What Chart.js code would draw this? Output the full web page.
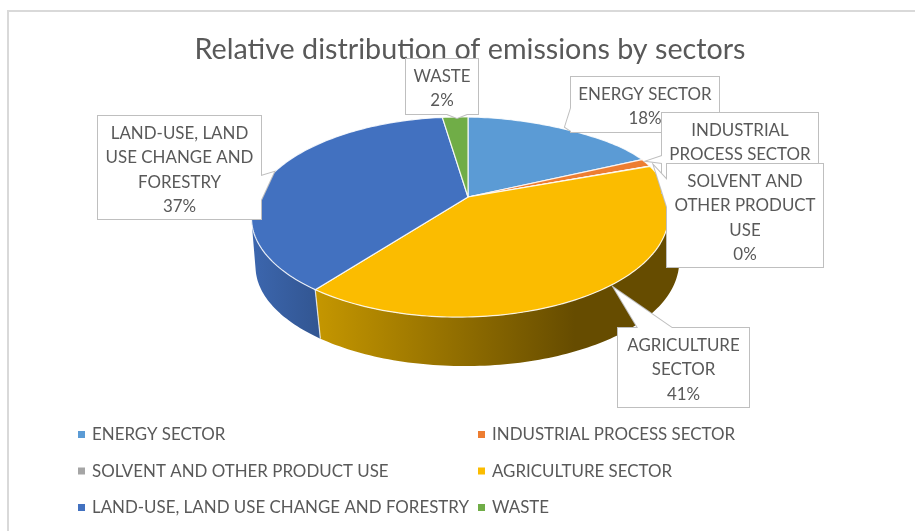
<!DOCTYPE html>
<html>
<head>
<meta charset="utf-8">
<style>
  html, body { margin: 0; padding: 0; background: #fff; overflow: hidden; }
  #wrap { position: relative; width: 915px; height: 531px; }
  #frame { position: absolute; left: 7px; top: 10px; right: 0; bottom: 0; border-left: 2px solid #d9d9d9; border-top: 2px solid #d9d9d9; }
  canvas { position: absolute; left: 0; top: 0; }
</style>
</head>
<body>
<div id="wrap">
  <div id="frame"></div>
  <canvas id="pie-chart" width="915" height="531"></canvas>
</div>
<script src="https://cdn.jsdelivr.net/npm/chart.js@4"></script>
<script>
const sectorLabels = ['ENERGY SECTOR', 'INDUSTRIAL PROCESS SECTOR', 'SOLVENT AND OTHER PRODUCT USE', 'AGRICULTURE SECTOR', 'LAND-USE, LAND USE CHANGE AND FORESTRY', 'WASTE'];
const sectorValues = [18.2, 1.3, 0.04, 41, 37.1, 2.4];
const sectorColors = ['#5b9bd5', '#ed7d31', '#a5a5a5', '#fbbc00', '#4271c0', '#70ad47'];

// how each callout wraps its category name
const calloutLines = [
  ['ENERGY SECTOR'],
  ['INDUSTRIAL', 'PROCESS SECTOR'],
  ['SOLVENT AND', 'OTHER PRODUCT', 'USE'],
  ['AGRICULTURE', 'SECTOR'],
  ['LAND-USE, LAND', 'USE CHANGE AND', 'FORESTRY'],
  ['WASTE']
];

// callout boxes and their tails, in page pixels
const calloutBoxes = [
  {x: 571, y: 77, w: 148, h: 55, tail: [[571, 108], [565, 127], [571, 131]]},
  {x: 662, y: 113, w: 156, h: 80, tail: [[662, 156], [647, 161], [662, 163]]},
  {x: 667, y: 164, w: 156, h: 103, tail: [[667, 180], [654, 166], [667, 207]]},
  {x: 618, y: 328, w: 131, h: 79, tail: [[638, 328], [614, 288], [672, 328]]},
  {x: 98, y: 116, w: 163, h: 103, tail: [[261, 176], [274, 172], [261, 200]]},
  {x: 406, y: 59, w: 72, h: 55, tail: [[447, 114], [457, 118], [467, 114]]}
];

const labelFont = '16.9px Lato';
const textColor = '#595959';

// the tilted pie, mapped from the unit circle with a little perspective
const pie = {cx: 468, cy: 197, a: 203.7, b: 96, k: 0.2, m: -0.039, depthX: 7, spreadX: 3, depthY: 49};

function project(angle, bottom) {
  let u = Math.cos(angle);
  let v = Math.sin(angle);
  let w = 1 - pie.k * v - pie.m * u;
  //the picture's rim bulges a bit at the upper right
  let bump = 1 + 0.05 * Math.exp(-Math.pow((angle + 0.44) / 0.44, 2));
  let x = pie.cx + bump * pie.a * u / w;
  let y = pie.cy + bump * pie.b * v / w;
  if (bottom) {
    x += pie.depthX + pie.spreadX * u;
    y += pie.depthY;
  }
  return [x, y];
}

function rim(arc, bottom) {
  let pts = [];
  let steps = Math.max(2, Math.ceil((arc.endAngle - arc.startAngle) / 0.02));
  for (let i = 0; i <= steps; i++) {
    pts.push(project(arc.startAngle + (arc.endAngle - arc.startAngle) * i / steps, bottom));
  }
  return pts;
}

function wallFill(ctx, i) {
  if (i === 3) {
    let g = ctx.createLinearGradient(318, 0, 575, 0);
    g.addColorStop(0, '#c49600');
    g.addColorStop(1, '#664c00');
    return g;
  }
  if (i === 4) {
    let g = ctx.createLinearGradient(252, 0, 318, 0);
    g.addColorStop(0, '#3c66ae');
    g.addColorStop(1, '#325692');
    return g;
  }
  return '#666';
}

const tiltedPie = {
  id: 'tiltedPie',
  beforeDatasetsDraw(chart) {
    let ctx = chart.ctx;
    let arcs = chart.getDatasetMeta(0).data;
    ctx.save();
    //side walls first, the top faces hide what is left of them at the back
    arcs.forEach((arc, i) => {
      let top = rim(arc, false);
      let bottom = rim(arc, true);
      ctx.beginPath();
      for (let n = 0; n < top.length - 1; n++) {
        if (top[n][1] < pie.cy + 5) continue;
        //all small quads in one path, same winding so that they merge without seams
        let quad = [top[n], top[n + 1], bottom[n + 1], bottom[n]];
        let area = 0;
        quad.forEach((p, j) => {
          let q = quad[(j + 1) % 4];
          area += p[0] * q[1] - q[0] * p[1];
        });
        if (area < 0) quad.reverse();
        quad.forEach((p, j) => j ? ctx.lineTo(p[0], p[1]) : ctx.moveTo(p[0], p[1]));
        ctx.closePath();
      }
      ctx.fillStyle = wallFill(ctx, i);
      ctx.fill();
      if (top[0][1] > pie.cy + 5) {
        ctx.strokeStyle = 'rgba(255,255,255,.75)';
        ctx.lineWidth = 1.2;
        ctx.beginPath();
        ctx.moveTo(top[0][0], top[0][1]);
        ctx.lineTo(bottom[0][0], bottom[0][1]);
        ctx.stroke();
      }
    });
    //top faces
    arcs.forEach((arc, i) => {
      ctx.beginPath();
      ctx.moveTo(pie.cx, pie.cy);
      rim(arc, false).forEach(p => ctx.lineTo(p[0], p[1]));
      ctx.closePath();
      ctx.fillStyle = sectorColors[i];
      ctx.fill();
      ctx.strokeStyle = 'rgba(255,255,255,.85)';
      ctx.lineWidth = 1.2;
      ctx.lineJoin = 'round';
      ctx.stroke();
    });
    ctx.restore();
    return false;
  },
  afterDraw(chart) {
    let ctx = chart.ctx;
    ctx.save();
    //callouts
    calloutBoxes.forEach((box, i) => {
      ctx.beginPath();
      ctx.rect(box.x, box.y, box.w, box.h);
      ctx.moveTo(box.tail[0][0], box.tail[0][1]);
      ctx.lineTo(box.tail[1][0], box.tail[1][1]);
      ctx.lineTo(box.tail[2][0], box.tail[2][1]);
      ctx.strokeStyle = '#bfbfbf';
      ctx.lineWidth = 2;
      ctx.stroke();
      ctx.fillStyle = '#fff';
      ctx.fillRect(box.x, box.y, box.w, box.h);
      ctx.beginPath();
      ctx.moveTo(box.tail[0][0], box.tail[0][1]);
      ctx.lineTo(box.tail[1][0], box.tail[1][1]);
      ctx.lineTo(box.tail[2][0], box.tail[2][1]);
      ctx.closePath();
      ctx.fill();

      let lines = calloutLines[i].concat(Math.round(sectorValues[i]) + '%');
      ctx.font = labelFont;
      ctx.fillStyle = textColor;
      ctx.textAlign = 'center';
      ctx.textBaseline = 'middle';
      lines.forEach((line, n) => {
        ctx.fillText(line, box.x + box.w / 2, box.y + 17.5 + n * 24.4);
      });
    });
    //legend, two columns
    ctx.font = labelFont;
    ctx.textAlign = 'left';
    ctx.textBaseline = 'middle';
    sectorLabels.forEach((label, i) => {
      let col = i % 2;
      let x = col ? 478 : 78;
      let y = 434.5 + Math.floor(i / 2) * 36.5;
      ctx.fillStyle = sectorColors[i];
      ctx.fillRect(x, y - 3.5, 7, 7);
      ctx.fillStyle = textColor;
      ctx.fillText(label, x + 14, y + 0.5);
    });
    ctx.restore();
  }
};

new Chart(document.getElementById('pie-chart'), {
  type: 'pie',
  data: {
    labels: sectorLabels,
    datasets: [{
      data: sectorValues,
      backgroundColor: sectorColors,
      borderWidth: 0
    }]
  },
  options: {
    responsive: false,
    animation: false,
    layout: {padding: {left: 25}},
    plugins: {
      legend: {display: false},
      tooltip: {enabled: false},
      title: {
        display: true,
        text: 'Relative distribution of emissions by sectors',
        color: textColor,
        font: {family: 'Lato', size: 28.7, weight: 'normal'},
        padding: {top: 33, bottom: 10}
      }
    }
  },
  plugins: [tiltedPie]
});
</script>
</body>
</html>
